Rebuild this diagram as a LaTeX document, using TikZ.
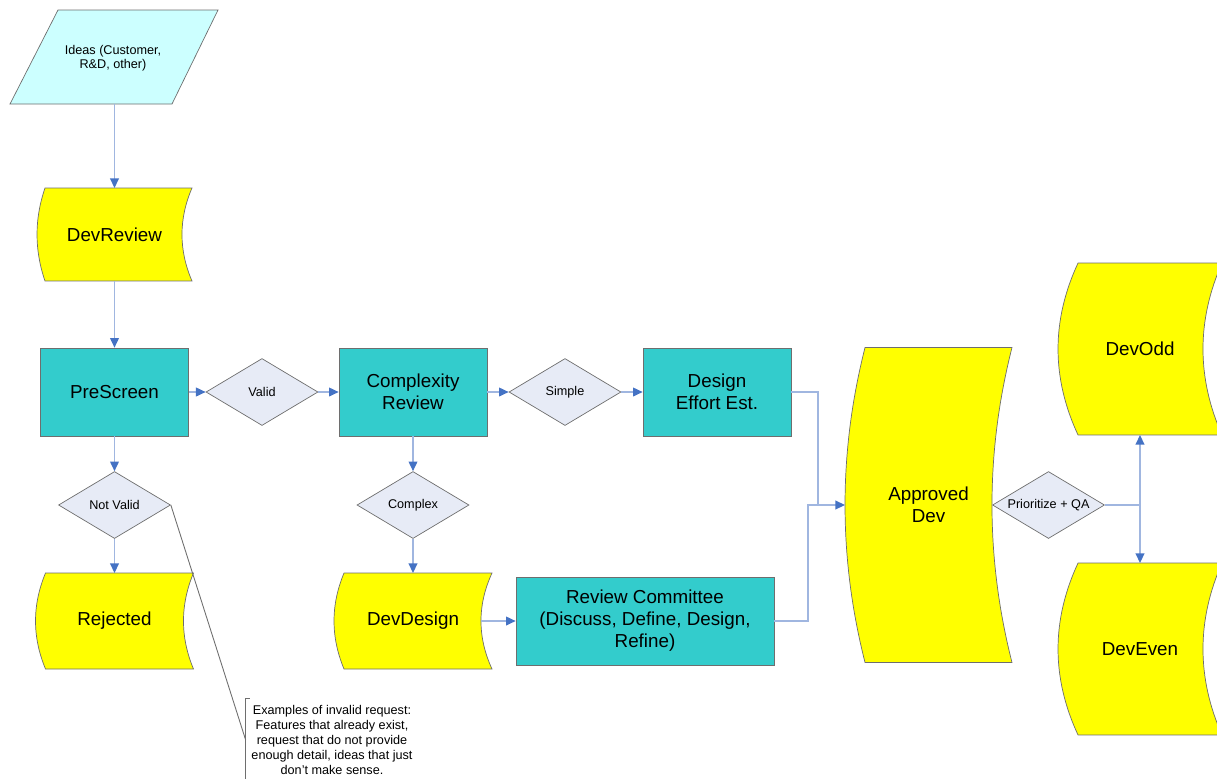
\documentclass[tikz,border=0pt]{standalone}
\usepackage{fontspec}
\setmainfont{Liberation Sans}
\usetikzlibrary{shapes.geometric,arrows.meta,calc,backgrounds}

\definecolor{procteal}{RGB}{51,204,204}
\definecolor{storeyellow}{RGB}{255,255,0}
\definecolor{inputcyan}{RGB}{204,255,255}
\definecolor{decisionfill}{RGB}{231,235,246}
\definecolor{linkblue}{RGB}{160,182,224}
\definecolor{tipblue}{RGB}{68,114,196}
\definecolor{edgegray}{RGB}{110,110,110}

\newcommand{\bigtext}{\fontsize{10.7}{12.5}\selectfont}
\newcommand{\smalltext}{\fontsize{7.2}{8}\selectfont}
\newcommand{\notetext}{\fontsize{7.2}{8.5}\selectfont}

\newcommand{\storedoutline}[3]{%
	\begin{pgfonlayer}{background}
	\draw[storeline] ($(#1.north west)+(#2,0)$)
		.. controls ($(#1.north west)!0.333!(#1.south west)+(-#2/3,0)$)
		and ($(#1.north west)!0.667!(#1.south west)+(-#2/3,0)$) .. ($(#1.south west)+(#2,0)$)
		-- (#1.south east)
		.. controls ($(#1.south east)!0.333!(#1.north east)+(-4*#3/3,0)$)
		and ($(#1.south east)!0.667!(#1.north east)+(-4*#3/3,0)$) .. (#1.north east)
		-- cycle;
	\end{pgfonlayer}}

\begin{document}
\begin{tikzpicture}[x=0.02cm,y=-0.02cm,
	proc/.style={draw=edgegray,fill=procteal,minimum width=2.96cm,minimum height=1.76cm,align=center,font=\bigtext},
	decision/.style={diamond,aspect=1.67,draw=edgegray,fill=decisionfill,minimum width=2.24cm,minimum height=1.34cm,inner sep=1pt,font=\smalltext},
	stored/.style={align=center,font=\bigtext,inner sep=0pt,outer sep=0pt},
	storeline/.style={draw=edgegray,fill=storeyellow},
	line/.style={draw=linkblue,line width=0.8pt},
	flow/.style={line,-{Triangle[length=5.5pt,width=5pt,color=tipblue]}},
	noteline/.style={draw=edgegray,line width=0.5pt}]
	\useasboundingbox (0,0) rectangle (1217,778);

	\draw[draw=edgegray,fill=inputcyan] (58,10) -- (218,10) -- (172,104) -- (10,104) -- cycle;
	\node[font=\smalltext,align=center] (ideas) at (113,58) {Ideas (Customer,\\R\&D, other)};
	\coordinate (ideasout) at (114.5,104);

	\node[stored,minimum width=3.10cm,minimum height=1.86cm] (devreview) at (114.5,234.5) {DevReview};
	\storedoutline{devreview}{8}{10}
	\node[stored,minimum width=3.16cm,minimum height=1.92cm] (rejected) at (114.5,621) {Rejected};
	\storedoutline{rejected}{10}{10}
	\node[stored,minimum width=3.16cm,minimum height=1.92cm] (devdesign) at (413,621) {DevDesign};
	\storedoutline{devdesign}{10}{11}
	\node[stored,minimum width=3.34cm,minimum height=6.30cm] (approved) at (928.5,505) {Approved\\Dev};
	\storedoutline{approved}{20}{20}
	\node[stored,minimum width=3.28cm,minimum height=3.44cm] (devodd) at (1140,349) {DevOdd};
	\storedoutline{devodd}{20}{19}
	\node[stored,minimum width=3.28cm,minimum height=3.44cm] (deveven) at (1140,649) {DevEven};
	\storedoutline{deveven}{20}{19}

	\node[proc] (prescreen) at (114.5,392) {PreScreen};
	\node[proc] (complexity) at (413,392) {Complexity\\Review};
	\node[proc] (design) at (717,392) {Design\\Effort Est.};
	\node[proc,minimum width=5.16cm] (committee) at (645,621) {Review Committee\\(Discuss, Define, Design,\\Refine)};

	\node[decision] (valid) at (262,392) {Valid};
	\node[decision] (simple) at (565,392) {Simple};
	\node[decision] (notvalid) at (114.5,505) {Not Valid};
	\node[decision] (complex) at (413,505) {Complex};
	\node[decision] (prioritize) at (1048.5,505) {Prioritize + QA};

	\coordinate (mergeA) at (818,505);
	\coordinate (mergeB) at (808,505);
	\coordinate (split) at (1140,505);

	\draw[flow] (ideasout) -- (devreview.north);
	\draw[flow] (devreview.south) -- (prescreen.north);
	\draw[flow] (prescreen.east) -- (valid.west);
	\draw[flow] (valid.east) -- (complexity.west);
	\draw[flow] (complexity.east) -- (simple.west);
	\draw[flow] (simple.east) -- (design.west);
	\draw[line] (design.east) -| (mergeA);
	\draw[line] (committee.east) -| (mergeB) -- (mergeA);
	\draw[flow] (mergeA) -- (approved.west);
	\draw[flow] (complexity.south) -- (complex.north);
	\draw[flow] (complex.south) -- (devdesign.north);
	\draw[flow] ($(devdesign.east)+(-11,0)$) -- (committee.west);
	\draw[flow] (prescreen.south) -- (notvalid.north);
	\draw[flow] (notvalid.south) -- (rejected.north);
	\draw[line] (prioritize.east) -- (split);
	\draw[flow] (split) -- (devodd.south);
	\draw[flow] (split) -- (deveven.north);

	\node[font=\notetext,align=center,minimum width=3.44cm,minimum height=1.64cm,inner sep=0pt] (note) at (332,740) {Examples of invalid request:\\Features that already exist,\\request that do not provide\\enough detail, ideas that just\\don’t make sense.};
	\draw[noteline] ($(note.north west)+(4,0)$) -- (note.north west) -- (note.south west);
	\draw[noteline] (notvalid.east) -- (note.west);
\end{tikzpicture}
\end{document}
